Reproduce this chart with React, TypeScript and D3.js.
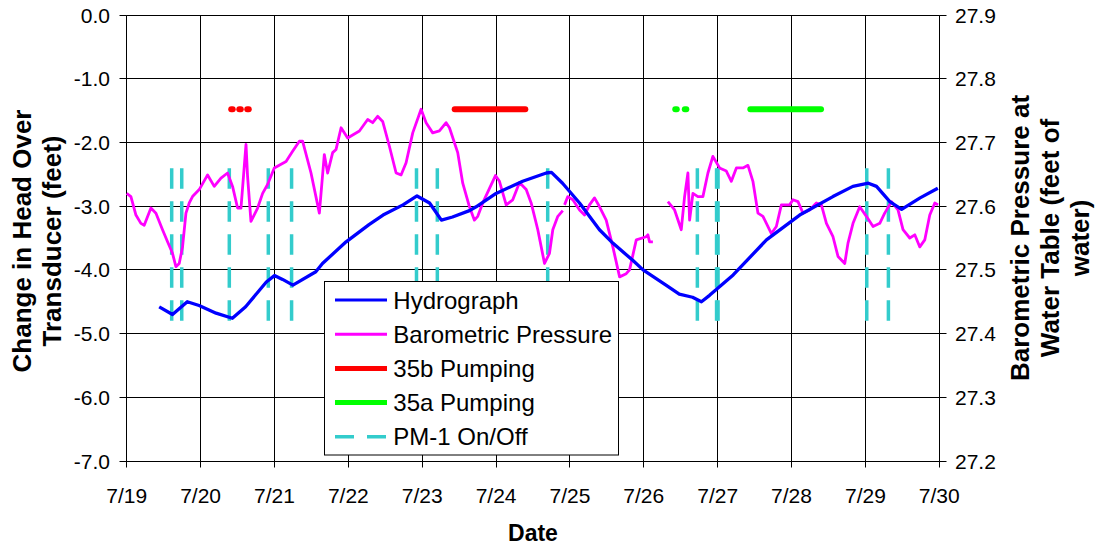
import React from 'react';
import * as d3 from 'd3';

const dayLabels = ['7/19', '7/20', '7/21', '7/22', '7/23', '7/24', '7/25', '7/26', '7/27', '7/28', '7/29', '7/30'];
const leftTicks = [0, -1, -2, -3, -4, -5, -6, -7];
const rightTicks = [27.9, 27.8, 27.7, 27.6, 27.5, 27.4, 27.3, 27.2];

// Hydrograph: [day since 7/19, change in head (ft)]
const hydrograph: [number, number][] = [
  [0.44, -4.58], [0.62, -4.7], [0.82, -4.5], [0.98, -4.56], [1.21, -4.68], [1.43, -4.76],
  [1.61, -4.58], [1.89, -4.19], [2.0, -4.09], [2.11, -4.15], [2.25, -4.24], [2.56, -4.03],
  [2.65, -3.9], [2.97, -3.56], [3.28, -3.29], [3.47, -3.14], [3.74, -2.98], [3.93, -2.84],
  [4.1, -2.95], [4.26, -3.22], [4.41, -3.17], [4.64, -3.07], [4.73, -3.01], [5.0, -2.8],
  [5.36, -2.61], [5.68, -2.48], [5.75, -2.47], [5.9, -2.64], [6.13, -2.95], [6.4, -3.37],
  [6.58, -3.58], [6.85, -3.85], [6.99, -4.0], [7.3, -4.24], [7.48, -4.38], [7.66, -4.43],
  [7.78, -4.5], [7.89, -4.4], [8.21, -4.08], [8.66, -3.53], [9.11, -3.14], [9.56, -2.85],
  [9.83, -2.69], [10.04, -2.64], [10.15, -2.69], [10.33, -2.93], [10.49, -3.05], [10.74, -2.87],
  [10.98, -2.72],
];

// Barometric pressure (feet of water, right axis), three recorded segments
const baroSegment1: [number, number][] = [
  [0.0, 27.62], [0.057, 27.615], [0.125, 27.586], [0.192, 27.573], [0.237, 27.57], [0.328, 27.597],
  [0.396, 27.589], [0.485, 27.563], [0.553, 27.544], [0.62, 27.526], [0.666, 27.505], [0.711, 27.51],
  [0.756, 27.536], [0.802, 27.589], [0.847, 27.605], [0.891, 27.615], [0.982, 27.626], [1.095, 27.649],
  [1.185, 27.631], [1.276, 27.644], [1.365, 27.652], [1.433, 27.631], [1.501, 27.597], [1.547, 27.597],
  [1.615, 27.697], [1.636, 27.647], [1.682, 27.576], [1.772, 27.597], [1.84, 27.62], [1.907, 27.634],
  [1.998, 27.66], [2.157, 27.67], [2.246, 27.686], [2.337, 27.702], [2.381, 27.702], [2.495, 27.652],
  [2.608, 27.589], [2.675, 27.681], [2.72, 27.652], [2.788, 27.684], [2.834, 27.689], [2.902, 27.723],
  [2.991, 27.707], [3.15, 27.718], [3.262, 27.736], [3.33, 27.731], [3.397, 27.741], [3.465, 27.733],
  [3.556, 27.694], [3.647, 27.652], [3.714, 27.649], [3.782, 27.668], [3.872, 27.715], [3.985, 27.752],
  [4.053, 27.731], [4.142, 27.715], [4.233, 27.718], [4.324, 27.731], [4.369, 27.723], [4.481, 27.684],
  [4.549, 27.636], [4.64, 27.599], [4.707, 27.578], [4.752, 27.584], [4.82, 27.605], [4.911, 27.628],
  [4.992, 27.648], [5.046, 27.639], [5.137, 27.602], [5.226, 27.61], [5.317, 27.637], [5.408, 27.626],
  [5.475, 27.605], [5.565, 27.563], [5.656, 27.51], [5.723, 27.526], [5.768, 27.563], [5.836, 27.584],
  [5.903, 27.593],
];
const baroSegment2: [number, number][] = [
  [5.927, 27.602], [5.971, 27.615], [6.039, 27.61], [6.13, 27.594], [6.198, 27.586], [6.265, 27.602],
  [6.333, 27.613], [6.401, 27.599], [6.491, 27.578], [6.581, 27.536], [6.672, 27.489], [6.762, 27.494],
  [6.807, 27.5], [6.898, 27.547], [7.033, 27.552], [7.055, 27.555], [7.078, 27.544], [7.123, 27.544],
];
const baroSegment3: [number, number][] = [
  [7.326, 27.607], [7.417, 27.594], [7.507, 27.563], [7.552, 27.615], [7.597, 27.652], [7.62, 27.578],
  [7.665, 27.62], [7.732, 27.615], [7.8, 27.615], [7.868, 27.652], [7.935, 27.678], [8.026, 27.66],
  [8.117, 27.655], [8.185, 27.639], [8.253, 27.66], [8.342, 27.66], [8.41, 27.664], [8.477, 27.639],
  [8.545, 27.589], [8.613, 27.584], [8.727, 27.557], [8.794, 27.568], [8.862, 27.602], [8.974, 27.602],
  [9.019, 27.61], [9.087, 27.607], [9.155, 27.589], [9.245, 27.594], [9.336, 27.605], [9.404, 27.602],
  [9.472, 27.573], [9.561, 27.552], [9.629, 27.521], [9.72, 27.51], [9.764, 27.542], [9.832, 27.573],
  [9.923, 27.599], [10.013, 27.584], [10.103, 27.568], [10.194, 27.573], [10.261, 27.589], [10.352, 27.607],
  [10.441, 27.594], [10.509, 27.563], [10.6, 27.55], [10.668, 27.555], [10.736, 27.536], [10.803, 27.547],
  [10.871, 27.586], [10.939, 27.605], [10.983, 27.602],
];

// Pumping periods [start day, end day], plotted at a constant level
const pump35b: [number, number][] = [[1.415, 1.435], [1.524, 1.544], [1.632, 1.652], [4.44, 5.396]];
const pump35a: [number, number][] = [[7.426, 7.446], [7.555, 7.575], [8.442, 9.399]];
const pumpLevel = -1.48;

// PM-1 On/Off marker days and their vertical extent
const pm1Days = [0.609, 0.745, 1.389, 1.917, 2.232, 3.923, 4.205, 5.699, 7.725, 7.985, 8.005, 10.018, 10.311];
const pm1Range: [number, number] = [-4.8, -2.4];

const legendItems = ['Hydrograph', 'Barometric Pressure', '35b Pumping', '35a Pumping', 'PM-1 On/Off'];

const FONT = "'Liberation Sans', Arial, Helvetica, sans-serif";

const snap = (v: number) => Math.round(v - 0.5) + 0.5;

export default function App() {
  const W = 1096, H = 550;
  const L = 126.7, R = 939.3, T = 15, B = 461;
  const x = d3.scaleLinear().domain([0, 11]).range([L, R]);
  const yL = d3.scaleLinear().domain([-7, 0]).range([B, T]);
  const yR = d3.scaleLinear().domain([27.2, 27.9]).range([B, T]);

  const hydroLine = d3.line<[number, number]>().x(d => x(d[0])).y(d => yL(d[1]));
  const baroLine = d3.line<[number, number]>().x(d => x(d[0])).y(d => yR(d[1]));

  const days = d3.range(0, 12);
  const blue = '#0000FF', magenta = '#FF00FF', red = '#FF0000', green = '#00FF00', cyan = '#33CCCC';

  const legX = 324.5, legY = 281.5, legW = 294, legH = 173.5;
  const rowY = [300, 334.2, 368.4, 402.6, 436.8];
  const legendStyles = [
    { stroke: blue, width: 3, dash: undefined as string | undefined },
    { stroke: magenta, width: 3, dash: undefined },
    { stroke: red, width: 5, dash: undefined },
    { stroke: green, width: 5, dash: undefined },
    { stroke: cyan, width: 3.5, dash: '19,13' },
  ];

  const Ls = snap(L), Rs = snap(R), Bs = snap(B), Ts = snap(T);

  return (
    <svg width={W} height={H} style={{ position: 'absolute', left: 0, top: 0, background: '#fff' }}
      fontFamily={FONT}>
      <rect x={0} y={0} width={W} height={H} fill="#fff" />
      {/* gridlines */}
      {leftTicks.map(t => (
        <line key={'hg' + t} x1={Ls} x2={Rs} y1={snap(yL(t))} y2={snap(yL(t))} stroke="#000" strokeWidth={1} />
      ))}
      {days.map(d => (
        <line key={'vg' + d} x1={snap(x(d))} x2={snap(x(d))} y1={Ts} y2={Bs} stroke="#000" strokeWidth={1} />
      ))}
      {/* axes */}
      <line x1={Ls} x2={Ls} y1={Ts} y2={Bs} stroke="#000" strokeWidth={1} />
      <line x1={Rs} x2={Rs} y1={Ts} y2={Bs} stroke="#000" strokeWidth={1} />
      <line x1={Ls} x2={Rs} y1={Bs} y2={Bs} stroke="#000" strokeWidth={1} />
      {leftTicks.map(t => (
        <g key={'lt' + t}>
          <line x1={Ls - 7} x2={Ls} y1={snap(yL(t))} y2={snap(yL(t))} stroke="#000" />
          <text x={110} y={yL(t)} dy="0.36em" textAnchor="end" fontSize={21} fill="#000">
            {t.toFixed(1)}
          </text>
        </g>
      ))}
      {rightTicks.map(t => (
        <g key={'rt' + t}>
          <line x1={Rs} x2={Rs + 7} y1={snap(yR(t))} y2={snap(yR(t))} stroke="#000" />
          <text x={955} y={yR(t)} dy="0.36em" textAnchor="start" fontSize={21} fill="#000">
            {t.toFixed(1)}
          </text>
        </g>
      ))}
      {days.map((d, i) => (
        <g key={'xt' + d}>
          <line x1={snap(x(d))} x2={snap(x(d))} y1={Bs} y2={Bs + 6} stroke="#000" />
          <text x={x(d)} y={502.5} textAnchor="middle" fontSize={21} fill="#000">{dayLabels[i]}</text>
        </g>
      ))}
      {/* axis titles */}
      <text transform="translate(22,241) rotate(-90)" textAnchor="middle" dy="0.36em" fontSize={26} fontWeight="bold">
        Change in Head Over
      </text>
      <text transform="translate(52,241) rotate(-90)" textAnchor="middle" dy="0.36em" fontSize={26} fontWeight="bold">
        Transducer (feet)
      </text>
      <text transform="translate(1020,238) rotate(-90)" textAnchor="middle" dy="0.36em" fontSize={26} fontWeight="bold">
        Barometric Pressure at
      </text>
      <text transform="translate(1050,238) rotate(-90)" textAnchor="middle" dy="0.36em" fontSize={26} fontWeight="bold">
        Water Table (feet of
      </text>
      <text transform="translate(1080,238) rotate(-90)" textAnchor="middle" dy="0.36em" fontSize={26} fontWeight="bold">
        water)
      </text>
      <text x={533} y={533} dy="0.36em" textAnchor="middle" fontSize={23} fontWeight="bold">Date</text>

      {/* PM-1 on/off */}
      {pm1Days.map((d, i) => (
        <line key={'pm' + i} x1={x(d)} x2={x(d)} y1={yL(pm1Range[0])} y2={yL(pm1Range[1])}
          stroke={cyan} strokeWidth={3.5} strokeDasharray="20.5,12.5" />
      ))}
      {/* barometric */}
      {[baroSegment1, baroSegment2, baroSegment3].map((seg, i) => (
        <path key={'b' + i} d={baroLine(seg) || ''} fill="none" stroke={magenta} strokeWidth={2.8}
          strokeLinejoin="round" />
      ))}
      {/* hydrograph */}
      <path d={hydroLine(hydrograph) || ''} fill="none" stroke={blue} strokeWidth={3.3} strokeLinejoin="round" />
      {/* pumping */}
      {pump35b.map((p, i) => (
        <line key={'r' + i} x1={x(p[0])} x2={x(p[1])} y1={yL(pumpLevel)} y2={yL(pumpLevel)}
          stroke={red} strokeWidth={6} strokeLinecap="round" />
      ))}
      {pump35a.map((p, i) => (
        <line key={'g' + i} x1={x(p[0])} x2={x(p[1])} y1={yL(pumpLevel)} y2={yL(pumpLevel)}
          stroke={green} strokeWidth={6} strokeLinecap="round" />
      ))}

      {/* legend */}
      <rect x={legX} y={legY} width={legW} height={legH} fill="#fff" stroke="#000" strokeWidth={1} />
      {legendItems.map((name, i) => (
        <g key={'lg' + i}>
          <line x1={335} x2={387} y1={rowY[i]} y2={rowY[i]} stroke={legendStyles[i].stroke}
            strokeWidth={legendStyles[i].width} strokeDasharray={legendStyles[i].dash} />
          <text x={393.3} y={rowY[i]} dy="0.36em" fontSize={24} fill="#000">{name}</text>
        </g>
      ))}
    </svg>
  );
}
